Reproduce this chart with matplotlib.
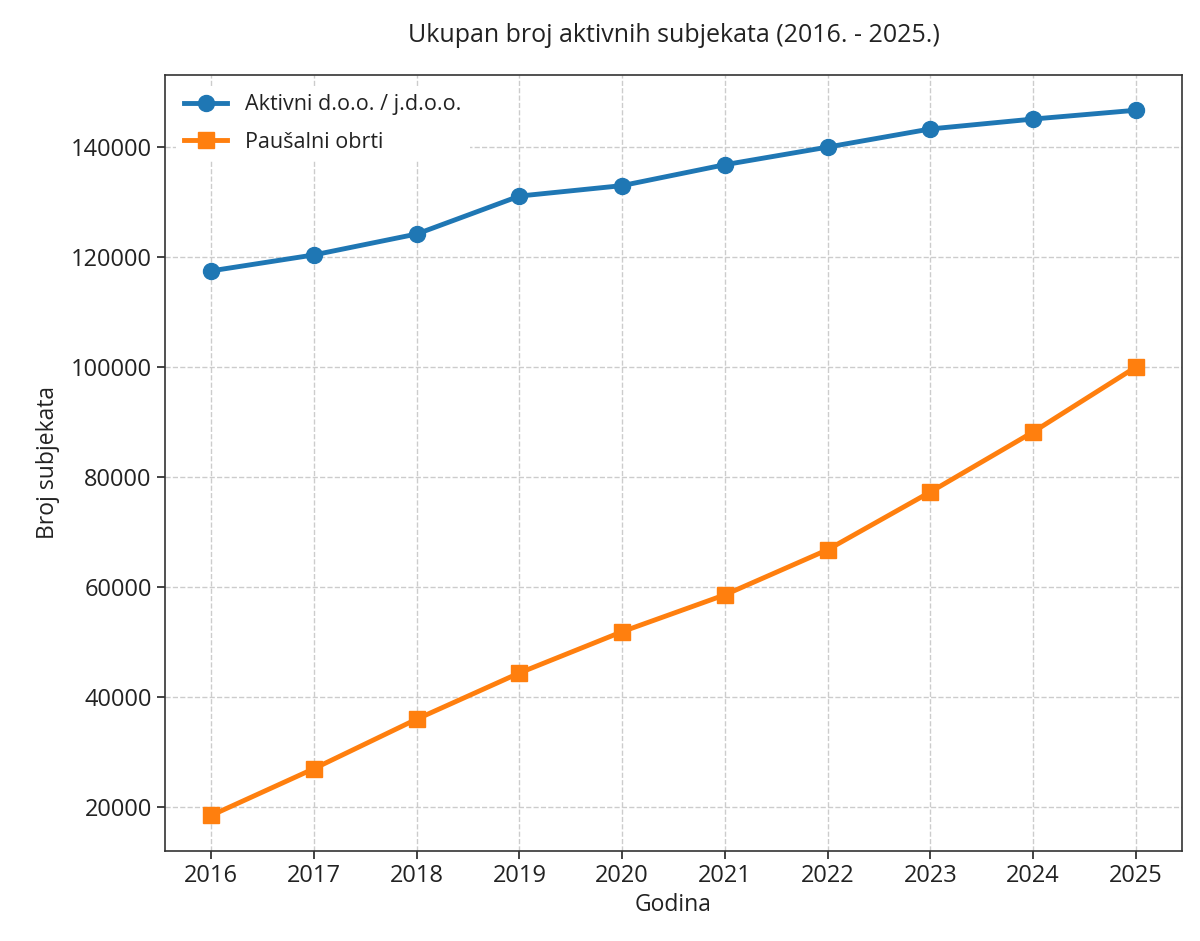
import matplotlib
matplotlib.use("Agg")
import matplotlib.pyplot as plt

plt.rcParams['font.family'] = ['Open Sans', 'DejaVu Sans']

years = [2016, 2017, 2018, 2019, 2020, 2021, 2022, 2023, 2024, 2025]
doo = [117500, 120400, 124200, 131100, 133000, 136800, 140000, 143300, 145100, 146700]
pausalni = [18500, 27000, 36000, 44400, 51900, 58600, 66800, 77300, 88200, 100000]

title = "Ukupan broj aktivnih subjekata (2016. - 2025.)"
xlabel = "Godina"
ylabel = "Broj subjekata"
labels = ["Aktivni d.o.o. / j.d.o.o.", "Paušalni obrti"]

fig = plt.figure(figsize=(12, 9.41), dpi=100)
ax = fig.add_axes([0.1375, 0.0960, 0.8475, 0.8243])

ax.plot(years, doo, color='#1f77b4', marker='o', lw=3.5, ms=11.5, label=labels[0])
ax.plot(years, pausalni, color='#ff7f0e', marker='s', lw=3.5, ms=11, label=labels[1])

ax.set_xticks(years)
ax.tick_params(axis='both', labelsize=17, length=6, width=1.2, colors='#222222')
ax.grid(True, linestyle='--', color='#cccccc', linewidth=1)
ax.set_axisbelow(True)

ax.set_title(title, fontsize=18, pad=24, color='#222222')
ax.set_xlabel(xlabel, fontsize=16.5, labelpad=4, color='#222222')
ax.set_ylabel(ylabel, fontsize=16.5, labelpad=8, color='#222222')

for s in ax.spines.values():
    s.set_linewidth(1.2)
    s.set_color('#333333')

leg = ax.legend(loc='upper left', fontsize=15.5, frameon=True, edgecolor='none',
                framealpha=1, handlelength=2.0, labelspacing=0.75, borderaxespad=0.5)
for t in leg.get_texts():
    t.set_color('#222222')

fig.savefig("out.png", dpi=100)
